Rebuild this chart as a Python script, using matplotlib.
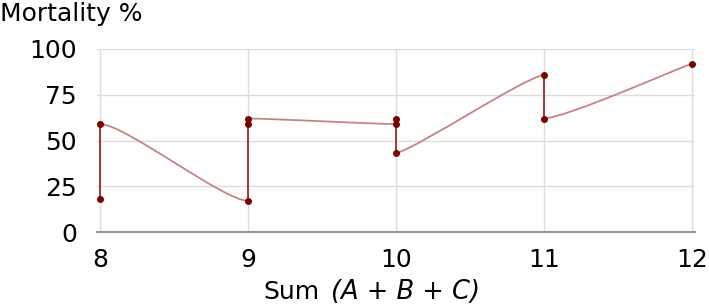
import numpy as np
import matplotlib
matplotlib.use("Agg")
import matplotlib.pyplot as plt
from matplotlib.path import Path
from matplotlib.patches import PathPatch

# Data (in drawing order of the connecting line)
sum_abc = [8, 8, 9, 9, 9, 10, 10, 10, 11, 11, 12]
mortality = [18, 59, 17, 59, 62, 59, 62, 43, 86, 62, 92]
x_ticks = [8, 9, 10, 11, 12]
y_ticks = [0, 25, 50, 75, 100]

fig = plt.figure(figsize=(7.09, 3.05), dpi=100)
W, H = 709, 305
ax = fig.add_axes([97 / W, (H - 232) / H, (695 - 97) / W, (232 - 49) / H])

ax.set_xlim(7.977, 12.022)
ax.set_ylim(0, 100)

# Smoothed (Catmull-Rom style) connecting line, vertical jumps straight
pts = np.column_stack([sum_abc, mortality]).astype(float)
n = len(pts)
curve_color = "#c48484"
vert_color = "#8e1b1b"
for i in range(n - 1):
    p0 = pts[max(i - 1, 0)]
    p1 = pts[i]
    p2 = pts[i + 1]
    p3 = pts[min(i + 2, n - 1)]
    if p1[0] == p2[0]:
        ax.plot([p1[0], p2[0]], [p1[1], p2[1]], color=vert_color, lw=1.2,
                zorder=3, solid_capstyle="butt")
    else:
        c1 = p1 + (p2 - p0) / 6.0
        c2 = p2 - (p3 - p1) / 6.0
        path = Path([p1, c1, c2, p2],
                    [Path.MOVETO, Path.CURVE4, Path.CURVE4, Path.CURVE4])
        ax.add_patch(PathPatch(path, facecolor="none", edgecolor=curve_color,
                               lw=1.3, zorder=3))

ax.plot(sum_abc, mortality, linestyle="none", marker="o", markersize=4,
        color="#7a0000", zorder=4, clip_on=False)

ax.set_xticks(x_ticks)
ax.set_yticks(y_ticks)
ax.set_xticklabels([str(t) for t in x_ticks])
ax.set_yticklabels([str(t) for t in y_ticks])
ax.tick_params(axis="both", length=0, labelsize=18, colors="black")
ax.tick_params(axis="x", pad=11.5)
ax.tick_params(axis="y", pad=14.4)

ax.grid(True, color="#dcdcdc", lw=1)
ax.set_axisbelow(True)
for s in ["left", "right", "top"]:
    ax.spines[s].set_visible(False)
ax.spines["bottom"].set_color("#999999")
ax.spines["bottom"].set_linewidth(1.5)

fig.text(0.0, (H - 21) / H, "Mortality %", fontsize=18, ha="left",
         va="baseline")

fig.text(263 / W, (H - 299) / H, "Sum", fontsize=18, ha="left",
         va="baseline")
fig.text(331 / W, (H - 299) / H, "(A + B + C)", fontsize=18.5,
         style="italic", ha="left", va="baseline")

fig.savefig("out.png", dpi=100)
